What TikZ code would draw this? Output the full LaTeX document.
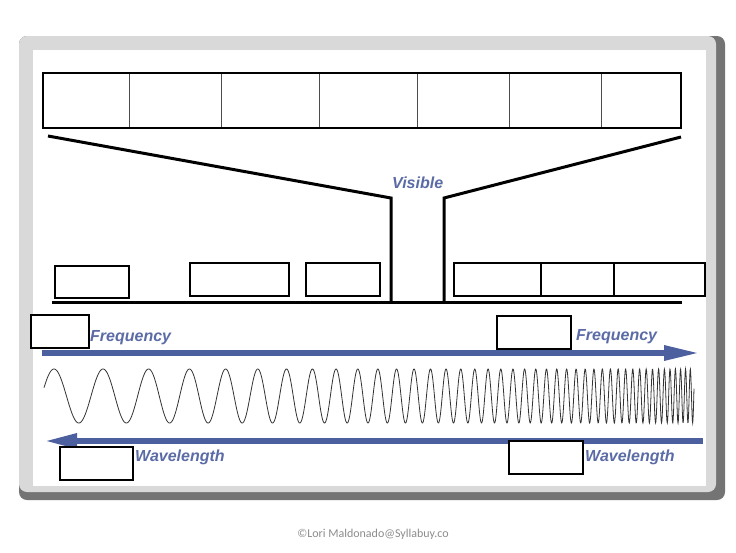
\documentclass[tikz,border=0pt]{standalone}
\usepackage{fontspec}
\setmainfont{Liberation Sans}
\newfontfamily\footfont{Carlito}
\usetikzlibrary{arrows.meta}
\definecolor{wblue}{HTML}{4C5F9E}
\definecolor{tblue}{HTML}{5B6BA6}
\definecolor{frameshadow}{HTML}{747474}
\definecolor{framelight}{HTML}{D9D9D9}
\tikzset{
  cell/.style={draw=black!70, line width=0.8pt, inner sep=0pt, outer sep=0pt, anchor=north west, minimum height=55pt},
  slot/.style={draw=black, line width=1.5pt, inner sep=0pt, outer sep=0pt, anchor=north west, fill=white},
  funnel/.style={line width=3pt, line join=miter},
  arrowbar/.style={wblue, line width=6pt, -{Triangle[length=36pt, width=14pt]}},
  lbl/.style={text=tblue, font=\fontsize{16}{16}\selectfont\bfseries\itshape, inner sep=0pt, anchor=base west},
  wave/.style={draw=black!80, line width=0.8pt}
}
\begin{document}
\begin{tikzpicture}[x=1pt, y=-1pt]
\useasboundingbox (0,0) rectangle (736,552);
\fill[white] (0,0) rectangle (736,552);
% frame
\fill[frameshadow, rounded corners=8pt] (19,36) rectangle (725,500);
\fill[framelight, rounded corners=8pt] (19,36) rectangle (716,492);
\fill[white] (33,50) rectangle (706,486);
% top row of cells
\foreach \a/\b [count=\i] in {43/129,129/221,221/319,319/417,417/509,509/601,601/681}{
  \node[cell, minimum width={(\b-\a)*1pt}] (c\i) at (\a,73) {};
}
\draw[line width=2pt] (c1.north west) rectangle (c7.south east);
% funnel
\draw[funnel] (48,136) -- (391,198) -- (391,302);
\draw[funnel] (681,137) -- (444,198) -- (444,302);
\draw[line width=3pt] (52,302) -- (682,302);
\node[lbl] (vis) at (392,188) {Visible};
% small boxes
\node[slot, minimum width=74pt, minimum height=32pt] (s1) at (55,266) {};
\node[slot, minimum width=99pt, minimum height=33pt] (s2) at (190,263) {};
\node[slot, minimum width=74pt, minimum height=33pt] (s3) at (306,263) {};
\node[slot, minimum width=87pt, minimum height=33pt] (s4) at (454,263) {};
\node[slot, minimum width=73pt, minimum height=33pt] (s5) at (541,263) {};
\node[slot, minimum width=91pt, minimum height=33pt] (s6) at (614,263) {};
% frequency
\coordinate (fa) at (42,353);
\coordinate (fb) at (700,353);
\draw[arrowbar] (fa) -- (fb);
\node[slot, minimum width=58pt, minimum height=33pt] (f1) at (31,315) {};
\node[slot, minimum width=74pt, minimum height=33pt] (f2) at (497,316) {};
\node[lbl] (ft1) at (90,341) {Frequency};
\node[lbl] (ft2) at (576,340) {Frequency};
% wave
\draw[wave] plot[domain=44:694, samples=2000] (\x, {396-27*cos(4680*((\x-44)/650)+9360*((\x-44)/650)^3+1440*((\x-44)/650)^13-72)});
% wavelength
\coordinate (wa) at (703,441);
\coordinate (wb) at (44,441);
\draw[arrowbar, -{Triangle[length=33pt, width=14pt]}] (wa) -- (wb);
\node[slot, minimum width=73pt, minimum height=33pt] (w1) at (60,447) {};
\node[slot, minimum width=74pt, minimum height=33pt] (w2) at (509,441) {};
\node[lbl] (wt1) at (135,461) {Wavelength};
\node[lbl] (wt2) at (585,461) {Wavelength};
% footer
\node[text=black!45, font=\footfont\fontsize{12}{12}\selectfont, inner sep=0pt] (foot) at (373,534) {©Lori Maldonado@Syllabuy.co};
\end{tikzpicture}
\end{document}
